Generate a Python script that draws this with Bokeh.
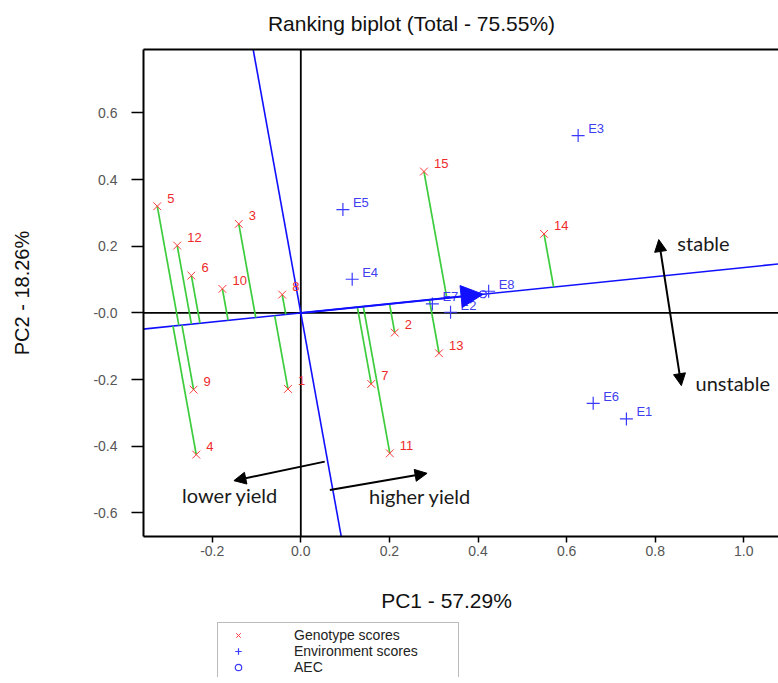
import numpy as np
from bokeh.plotting import figure
from bokeh.layouts import column
from bokeh.models import (Range1d, Span, Label, Arrow, NormalHead, LinearAxis,
                          FixedTicker, Legend, LegendItem, ColumnDataSource)
from bokeh.embed import file_html
from bokeh.resources import INLINE
from bokeh.core.properties import value

# ---------------- data ----------------
genotypes = [str(i) for i in range(1, 16)]
geno_pc1 = [-0.029, 0.212, -0.140, -0.236, -0.324, -0.247, 0.159, -0.042,
            -0.242, -0.177, 0.201, -0.279, 0.312, 0.549, 0.278]
geno_pc2 = [-0.228, -0.059, 0.267, -0.425, 0.320, 0.112, -0.213, 0.055,
            -0.230, 0.072, -0.421, 0.202, -0.121, 0.237, 0.424]

environments = ["E1", "E2", "E3", "E4", "E5", "E6", "E7", "E8"]
env_pc1 = [0.735, 0.338, 0.626, 0.116, 0.095, 0.660, 0.297, 0.424]
env_pc2 = [-0.318, 0.002, 0.532, 0.101, 0.310, -0.271, 0.027, 0.065]

x_ticks = [-0.2, 0.0, 0.2, 0.4, 0.6, 0.8, 1.0]
x_tick_labels = ["-0.2", "0.0", "0.2", "0.4", "0.6", "0.8", "1.0"]
y_ticks = [-0.6, -0.4, -0.2, 0.0, 0.2, 0.4, 0.6]
y_tick_labels = ["-0.6", "-0.4", "-0.2", "-0.0", "0.2", "0.4", "0.6"]

title_text = "Ranking biplot (Total - 75.55%)"
x_label = "PC1 - 57.29%"
y_label = "PC2 - 18.26%"
legend_labels = ["Genotype scores", "Environment scores", "AEC"]

# ---------------- derived (AEC) ----------------
gx = np.array(geno_pc1); gy = np.array(geno_pc2)
aec_x = float(np.mean(env_pc1)); aec_y = float(np.mean(env_pc2))
norm = np.hypot(aec_x, aec_y)
ux, uy = aec_x / norm, aec_y / norm
t = gx * ux + gy * uy
proj_x = t * ux; proj_y = t * uy
slope = aec_y / aec_x

xr = Range1d(-0.3551, 1.0783)
yr = Range1d(-0.6705, 0.790)

FONT = "Liberation Sans"
RED_MK, RED_TX = "#ff3c3c", "#ee2a2a"
BLUE_MK, BLUE_TX, BLUE_LN = "#3a3aff", "#3f3ff0", "#1010ff"
GREEN = "#3ccc3c"

W, H0, H1, H2 = 778, 46, 530, 107
FRAME_L = 143
Q_BOTTOM = 6


def panel(h, bottom=0):
    f = figure(width=W, height=h, x_range=Range1d(FRAME_L, W), y_range=Range1d(bottom, h),
               output_backend="svg", toolbar_location=None,
               x_axis_location=None, y_axis_location=None,
               min_border_left=FRAME_L, min_border_right=0,
               min_border_top=0, min_border_bottom=bottom)
    f.grid.visible = False
    f.outline_line_color = None
    f.background_fill_color = "white"
    f.border_fill_color = "white"
    return f


# ---------------- top panel: title ----------------
top = panel(H0)
top.add_layout(Label(x=411, y=H0 - 23, text=title_text, text_font=FONT,
                     text_font_size="21px", text_color="#111111",
                     text_align="center", text_baseline="middle"))

# ---------------- main biplot ----------------
p = figure(width=W, height=H1, x_range=xr, y_range=yr,
           output_backend="svg", toolbar_location=None,
           min_border_left=FRAME_L, min_border_right=0,
           min_border_top=3, min_border_bottom=H1 + H0 - 536)
p.grid.visible = False
p.outline_line_color = None
p.background_fill_color = "white"
p.border_fill_color = "white"

for ax in (p.xaxis[0], p.yaxis[0]):
    ax.axis_line_width = 2
    ax.axis_line_color = "black"
    ax.major_tick_line_width = 1.5
    ax.major_tick_in = 0
    ax.minor_tick_in = 0
    ax.minor_tick_out = 0
    ax.major_label_text_font = FONT
    ax.major_label_text_font_size = "14px"
    ax.major_label_text_color = "#555555"

p.xaxis.ticker = FixedTicker(ticks=x_ticks, minor_ticks=[])
p.xaxis.major_label_overrides = {tk: lb for tk, lb in zip(x_ticks, x_tick_labels)}
p.xaxis.major_tick_out = 6
p.xaxis.major_label_standoff = 3

p.yaxis.ticker = FixedTicker(ticks=y_ticks, minor_ticks=[])
p.yaxis.major_label_overrides = {tk: lb for tk, lb in zip(y_ticks, y_tick_labels)}
p.yaxis.major_tick_out = 12
p.yaxis.major_label_standoff = 14
p.yaxis.axis_label = y_label
p.yaxis.axis_label_text_font = FONT
p.yaxis.axis_label_text_font_size = "20px"
p.yaxis.axis_label_text_font_style = "normal"
p.yaxis.axis_label_text_color = "#111111"
p.yaxis.axis_label_standoff = 57

top_axis = LinearAxis(ticker=FixedTicker(ticks=[], minor_ticks=[]),
                      axis_line_width=2, major_tick_out=0, major_tick_in=0,
                      minor_tick_out=0, minor_tick_in=0,
                      major_label_text_font_size="0px",
                      major_label_standoff=0, axis_label_standoff=0)
p.add_layout(top_axis, "above")

# zero reference lines
p.add_layout(Span(location=0, dimension="width", line_color="black",
                  line_width=1.8, level="underlay"))
p.add_layout(Span(location=0, dimension="height", line_color="black",
                  line_width=1.8, level="underlay"))

# AEC abscissa and ordinate lines
lx = np.array([xr.start - 0.5, xr.end + 0.5])
p.line(lx, slope * lx, line_color=BLUE_LN, line_width=1.6)
ly = np.array([yr.start - 0.5, yr.end + 0.5])
p.line(-slope * ly, ly, line_color=BLUE_LN, line_width=1.6)

# projections of genotypes onto the AEC abscissa
p.segment(x0=gx, y0=gy, x1=proj_x, y1=proj_y, line_color=GREEN, line_width=1.7)

gsrc = ColumnDataSource(dict(x=geno_pc1, y=geno_pc2, name=genotypes))
esrc = ColumnDataSource(dict(x=env_pc1, y=env_pc2, name=environments))

p.scatter("x", "y", source=gsrc, marker="x", size=11, line_color=RED_MK, line_width=1)
p.text("x", "y", text="name", source=gsrc, x_offset=10, y_offset=-8,
       text_font=value(FONT), text_font_size="13px", text_color=RED_TX,
       text_align="left", text_baseline="middle")

p.scatter("x", "y", source=esrc, marker="cross", size=13, line_color=BLUE_MK, line_width=1.2)
p.text("x", "y", text="name", source=esrc, x_offset=10, y_offset=-7,
       text_font=value(FONT), text_font_size="13px", text_color=BLUE_TX,
       text_align="left", text_baseline="middle")

p.scatter([aec_x], [aec_y], marker="circle", size=7, fill_color=None,
          line_color=BLUE_MK, line_width=1.2)

p.add_layout(Arrow(end=NormalHead(size=22, fill_color=BLUE_LN, line_color=BLUE_LN),
                   x_start=0, y_start=0, x_end=aec_x, y_end=aec_y,
                   line_color=BLUE_LN, line_width=2))

# interpretive annotations
def head():
    return NormalHead(size=12, fill_color="black", line_color="black")

p.add_layout(Arrow(start=head(), end=head(), x_start=0.859, y_start=-0.218,
                   x_end=0.808, y_end=0.220, line_color="black", line_width=2))
p.add_layout(Arrow(end=head(), x_start=0.054, y_start=-0.446,
                   x_end=-0.151, y_end=-0.503, line_color="black", line_width=2))
p.add_layout(Arrow(end=head(), x_start=0.0655, y_start=-0.531,
                   x_end=0.285, y_end=-0.481, line_color="black", line_width=2))

ANN = "Lato"
for txt, x, y in [("stable", 0.850, 0.211), ("unstable", 0.891, -0.211),
                  ("lower yield", -0.268, -0.545), ("higher yield", 0.154, -0.548)]:
    p.add_layout(Label(x=x, y=y, text=txt, text_font=ANN, text_font_size="20px",
                       text_color="#1a1a1a", text_align="left", text_baseline="middle"))

# ---------------- bottom panel: x-axis title and legend ----------------
q = panel(H2, Q_BOTTOM)
q.add_layout(Label(x=446, y=H2 - 24, text=x_label, text_font=FONT,
                   text_font_size="21px", text_color="#111111",
                   text_align="center", text_baseline="middle"))

# legend keys (single point placed outside the visible panel)
lg_g = q.scatter(x=[-999], y=[-999], marker="x", size=11, line_color=RED_MK, line_width=1)
lg_e = q.scatter(x=[-999], y=[-999], marker="cross", size=13, line_color=BLUE_MK, line_width=1.2)
lg_a = q.scatter(x=[-999], y=[-999], marker="circle", size=7, fill_color=None,
                 line_color=BLUE_MK, line_width=1.2)

LEG_PAD, LEG_ROW, LEG_TOP = 4, 16, 624 - (H0 + H1)
leg_h = 2 * LEG_PAD + 3 * LEG_ROW
legend = Legend(items=[LegendItem(label=legend_labels[0], renderers=[lg_g]),
                       LegendItem(label=legend_labels[1], renderers=[lg_e]),
                       LegendItem(label=legend_labels[2], renderers=[lg_a])],
                location=(217 - FRAME_L, (H2 - LEG_TOP - leg_h) - Q_BOTTOM),
                orientation="vertical",
                label_text_font=FONT, label_text_font_size="14px",
                label_text_color="#222222",
                glyph_width=32, glyph_height=LEG_ROW, label_height=LEG_ROW,
                label_standoff=40, label_width=160, spacing=0, padding=LEG_PAD,
                margin=0, border_line_color="#777777", border_line_width=1,
                background_fill_color="white", background_fill_alpha=1)
q.add_layout(legend, "center")

layout = column(top, p, q, spacing=0)
open("out.html", "w").write(file_html(layout, INLINE))
